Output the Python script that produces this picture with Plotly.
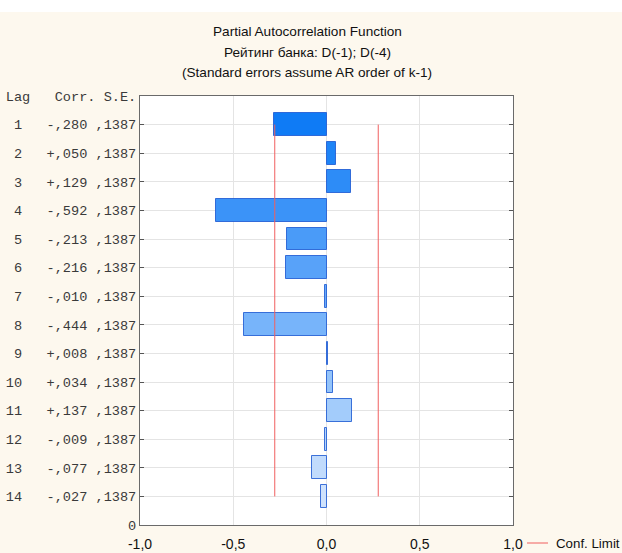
import plotly.graph_objects as go

# Partial autocorrelation estimates by lag
lags = [1, 2, 3, 4, 5, 6, 7, 8, 9, 10, 11, 12, 13, 14]
corr = [-0.280, 0.050, 0.129, -0.592, -0.213, -0.216, -0.010,
        -0.444, 0.008, 0.034, 0.137, -0.009, -0.077, -0.027]
se = [0.1387] * 14
corr_labels = ["-,280", "+,050", "+,129", "-,592", "-,213", "-,216", "-,010",
               "-,444", "+,008", "+,034", "+,137", "-,009", "-,077", "-,027"]
se_labels = [",1387"] * 14
x_ticks = [-1.0, -0.5, 0.0, 0.5, 1.0]
x_tick_labels = ["-1,0", "-0,5", "0,0", "0,5", "1,0"]

bar_fill = ["#0F7BF5", "#1E84F6", "#2D8CF7", "#3B93F8", "#4A9BF8", "#58A2F9",
            "#67AAF9", "#77B4FA", "#86BCFA", "#94C4FA", "#A3CCFB", "#B2D3FB",
            "#C1DBFC", "#CFE2FC"]

n = len(lags)
ypos = [n + 1 - k for k in lags]          # lag 1 at the top
conf = 2 * se[0]

# plot-area geometry in pixels (used for placing paper-referenced items)
L, R, T, B, W, H = 140, 109, 96, 28, 622, 553
PW, PH = W - L - R, H - T - B


def px(x):
    return (x - L) / PW


def py(y):
    return (H - B - y) / PH


fig = go.Figure()
fig.add_trace(go.Bar(
    x=corr, y=ypos, orientation="h", base=0, width=0.8,
    marker=dict(color=bar_fill, line=dict(color="rgba(30,90,210,0.85)", width=1)),
    showlegend=False, hoverinfo="x",
))
# confidence limits (+/- 2 S.E.) spanning lag 1 .. lag 14
fig.add_trace(go.Scatter(
    x=[-conf, -conf, None, conf, conf],
    y=[ypos[0], ypos[-1], None, ypos[0], ypos[-1]],
    mode="lines", line=dict(color="rgb(240,95,95)", width=1),
    name="Conf. Limit", showlegend=False, hoverinfo="skip",
))

tick_vals = [n + 1] + ypos + [0]
tick_text = ["Lag   Corr. S.E."] + [
    f"{k:>2}   {c} {s}" for k, c, s in zip(lags, corr_labels, se_labels)
] + ["0"]

title_font = dict(size=13.6, family="Liberation Sans, Arial", color="#111111")

fig.update_layout(
    width=W, height=H,
    margin=dict(l=L, r=R, t=T, b=B),
    paper_bgcolor="#FDF8EE",
    plot_bgcolor="#FFFFFF",
    font=dict(family="Liberation Sans, Arial", color="#111111"),
    bargap=0,
    xaxis=dict(
        range=[-1, 1], tickvals=x_ticks, ticktext=x_tick_labels,
        showgrid=True, gridcolor="#E4E4E4", gridwidth=1, zeroline=False,
        showline=True, linecolor="#6A6A6A", linewidth=1, mirror=True,
        ticks="", tickfont=dict(size=14, color="#111111"),
        ticklabelstandoff=6, automargin=False,
        fixedrange=True,
    ),
    yaxis=dict(
        range=[0, n + 1], tickvals=tick_vals, ticktext=tick_text,
        showgrid=True, gridcolor="#E4E4E4", gridwidth=1, zeroline=False,
        showline=True, linecolor="#6A6A6A", linewidth=1, mirror="ticks",
        ticks="inside", ticklen=4, tickcolor="#555555",
        tickfont=dict(family="Liberation Mono, Courier New, monospace",
                      size=13.6, color="#3A3A3A"),
        automargin=False,
        fixedrange=True,
    ),
    shapes=[
        # white band across the top of the page
        dict(type="rect", xref="paper", yref="paper",
             x0=px(-10), x1=px(W + 10), y0=py(12), y1=py(-10),
             fillcolor="#FFFFFF", line=dict(width=0), layer="above"),
        # legend swatch
        dict(type="line", xref="paper", yref="paper",
             x0=px(527), x1=px(548), y0=py(543), y1=py(543),
             line=dict(color="rgb(240,95,95)", width=1)),
    ],
    annotations=[
        dict(text="Partial Autocorrelation Function", xref="paper", yref="paper",
             x=px(307), y=py(32), showarrow=False, yanchor="middle",
             font=title_font),
        dict(text="Рейтинг банка: D(-1); D(-4)", xref="paper", yref="paper",
             x=px(307), y=py(53), showarrow=False, yanchor="middle",
             font=title_font),
        dict(text="(Standard errors assume AR order of k-1)", xref="paper", yref="paper",
             x=px(307), y=py(73), showarrow=False, yanchor="middle",
             font=title_font),
        dict(text="Conf. Limit", xref="paper", yref="paper",
             x=px(554), y=py(543), xanchor="left",
             yanchor="middle", showarrow=False,
             font=dict(size=13.3, color="#111111")),
    ],
)

fig.write_html("out.html")
